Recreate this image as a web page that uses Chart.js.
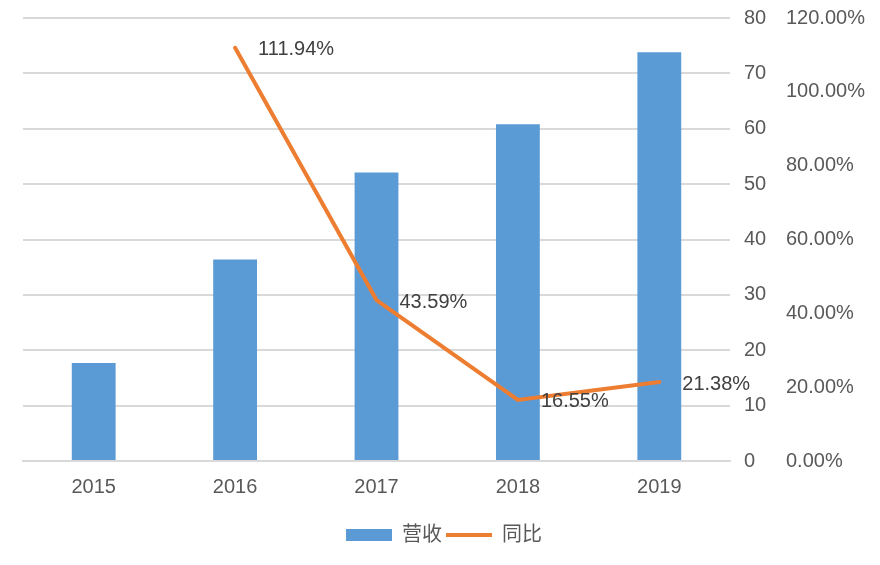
<!DOCTYPE html>
<html>
<head>
<meta charset="utf-8">
<script src="https://cdn.jsdelivr.net/npm/chart.js@4"></script>
<style>
    html, body { margin: 0; padding: 0; background: #fff; }
    #wrap { width: 880px; height: 565px; }
</style>
</head>
<body>
<div id="wrap"><canvas id="chart"></canvas></div>
<script>
// Data
const years = ['2015', '2016', '2017', '2018', '2019'];
const revenue = [17.7, 36.4, 52.1, 60.8, 73.8];
const growth = [null, 1.1194, 0.4359, 0.1655, 0.2138];
const growthLabels = [null, '111.94%', '43.59%', '16.55%', '21.38%'];

const fontFamily = '"Liberation Sans", Arial, "Noto Sans CJK SC", sans-serif';
const textColor = '#595959';

// draws the percent labels beside the line points
const pointLabels = {
    id: 'pointLabels',
    afterDatasetsDraw(chart) {
        const meta = chart.getDatasetMeta(1);
        const ctx = chart.ctx;
        ctx.save();
        ctx.font = '20px ' + fontFamily;
        ctx.fillStyle = '#404040';
        ctx.textAlign = 'left';
        ctx.textBaseline = 'middle';
        meta.data.forEach((pt, i) => {
            if (growthLabels[i] === null) return;
            ctx.fillText(growthLabels[i], pt.x + 23, pt.y + 2);
        });
        ctx.restore();
    }
};

Chart.defaults.font.family = fontFamily;
Chart.defaults.font.size = 20;
Chart.defaults.color = textColor;

new Chart(document.getElementById('chart'), {
    type: 'bar',
    data: {
        labels: years,
        datasets: [
            {
                label: '营收',
                data: revenue,
                backgroundColor: '#5B9BD5',
                borderWidth: 0,
                yAxisID: 'y',
                order: 1,
                pointStyle: 'rect',
                categoryPercentage: 1,
                barPercentage: 0.31
            },
            {
                type: 'line',
                label: '同比',
                data: growth,
                borderColor: '#ED7D31',
                backgroundColor: '#ED7D31',
                borderWidth: 4,
                borderCapStyle: 'round',
                pointRadius: 0,
                pointStyle: 'line',
                tension: 0,
                yAxisID: 'y1',
                order: 0
            }
        ]
    },
    options: {
        responsive: true,
        maintainAspectRatio: false,
        animation: false,
        layout: { padding: { top: 18, left: 23, right: 15, bottom: 10 } },
        plugins: {
            tooltip: { enabled: false },
            legend: {
                position: 'bottom',
                labels: {
                    usePointStyle: true,
                    pointStyleWidth: 46,
                    boxHeight: 12,
                    padding: 4,
                    color: textColor,
                    font: { size: 20 },
                    sort: (a, b) => a.datasetIndex - b.datasetIndex
                }
            }
        },
        scales: {
            x: {
                grid: { display: false },
                border: { display: true, color: '#d9d9d9', width: 2 },
                ticks: { padding: 6, color: textColor },
                afterFit: (axis) => { axis.height = 60; }
            },
            y: {
                position: 'right',
                min: 0,
                max: 80,
                ticks: { stepSize: 10, padding: 14, color: textColor },
                grid: { color: '#d9d9d9', lineWidth: 2, drawTicks: false },
                border: { display: false },
                afterFit: (axis) => {
                    axis.width = 36;
                    axis.paddingTop = 0;
                    axis.paddingBottom = 0;
                }
            },
            y1: {
                position: 'right',
                min: 0,
                max: 1.2,
                ticks: {
                    stepSize: 0.2,
                    padding: 20,
                    color: textColor,
                    callback: (v) => (v * 100).toFixed(2) + '%'
                },
                grid: { display: false, drawTicks: false },
                border: { display: false },
                afterFit: (axis) => {
                    axis.width = 99;
                    axis.paddingTop = 0;
                    axis.paddingBottom = 0;
                }
            }
        }
    },
    plugins: [pointLabels]
});
</script>
</body>
</html>
